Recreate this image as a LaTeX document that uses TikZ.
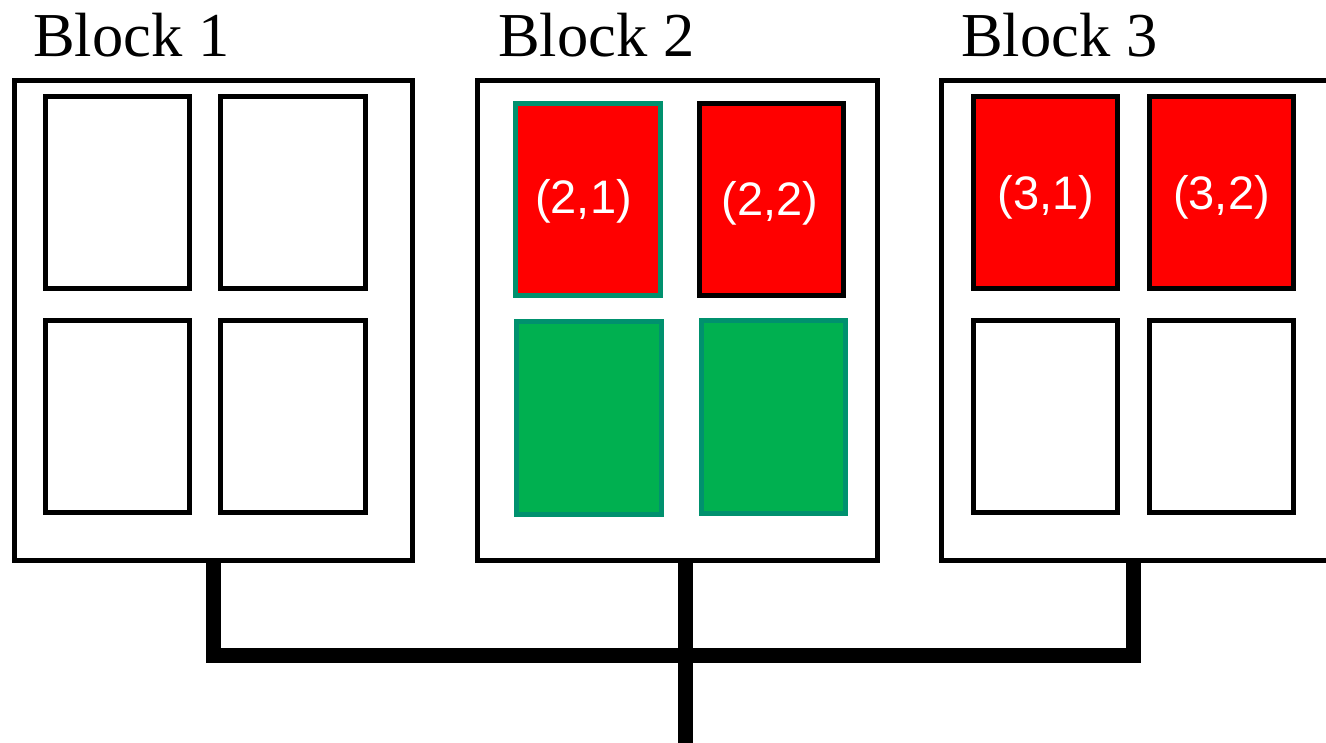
\documentclass[tikz,border=0pt]{standalone}
\usepackage{fontspec}
\setmainfont{Liberation Serif}
\newfontfamily\arialfont{Liberation Sans}
\definecolor{cellred}{HTML}{FF0000}
\definecolor{cellgreen}{HTML}{00B050}
\definecolor{cellteal}{HTML}{00916E}
\tikzset{
  blockbox/.style={draw=black, line width=5pt, fill=white, rectangle, inner sep=0pt, outer sep=0pt, minimum width=#1, minimum height=480pt},
  cellbox/.style={rectangle, line width=5pt, inner sep=0pt, outer sep=0pt},
  emptycell/.style={cellbox, draw=black, fill=white},
  redcell/.style={cellbox, draw=black, fill=cellred},
  tealred/.style={cellbox, draw=cellteal, fill=cellred},
  greencell/.style={cellbox, draw=cellteal, fill=cellgreen},
  blocktitle/.style={anchor=base west, inner sep=0pt, font=\fontsize{62.5}{70}\selectfont},
  celltext/.style={anchor=base, inner sep=0pt, text=white, font=\arialfont\fontsize{47}{52}\selectfont},
  bus/.style={line width=15pt, line join=miter, line cap=butt}
}
\newcommand{\cellat}[6]{% name, style, x1, y1, x2, y2
  \node[#2, minimum width={(#5-#3)*1pt}, minimum height={(#6-#4)*1pt}] (#1) at ({(#3+#5)/2},{(#4+#6)/2}) {};}
\begin{document}
\begin{tikzpicture}[x=1pt,y=-1pt]
\useasboundingbox (0,0) rectangle (1326,743);
\clip (0,0) rectangle (1326,743);
\fill[white] (0,0) rectangle (1326,743);

% titles
\node[blocktitle] (t1) at (33,57) {Block 1};
\node[blocktitle] (t2) at (498,57) {Block 2};
\node[blocktitle] (t3) at (961,57) {Block 3};

% blocks
\node[blockbox=398pt] (b1) at (213.5,320.5) {};
\node[blockbox=400pt] (b2) at (677.5,320.5) {};
\node[blockbox=398.5pt] (b3) at (1140.75,320.5) {};

% block 1 cells
\cellat{c11}{emptycell}{45.5}{96.5}{189.5}{288.5}
\cellat{c12}{emptycell}{220.5}{96.5}{365.5}{288.5}
\cellat{c13}{emptycell}{45.5}{320.5}{189.5}{512.5}
\cellat{c14}{emptycell}{220.5}{320.5}{365.5}{512.5}

% block 2 cells
\cellat{c21}{tealred}{515.5}{103.5}{660.5}{295.5}
\cellat{c22}{redcell}{699.5}{103.5}{843.5}{295.5}
\cellat{c23}{greencell}{516.5}{321.5}{661.5}{514.5}
\cellat{c24}{greencell}{701.5}{320.5}{845.5}{513.5}

% block 3 cells
\cellat{c31}{redcell}{973.5}{96.5}{1117.5}{288.5}
\cellat{c32}{redcell}{1149.5}{96.5}{1293.5}{288.5}
\cellat{c33}{emptycell}{973.5}{320.5}{1117.5}{512.5}
\cellat{c34}{emptycell}{1149.5}{320.5}{1293.5}{512.5}

% cell labels
\node[celltext] (l21) at (583.5,214) {(2,1)};
\node[celltext] (l22) at (770,216) {(2,2)};
\node[celltext] (l31) at (1046,210) {(3,1)};
\node[celltext] (l32) at (1221.5,210) {(3,2)};

% bus
\coordinate (j1) at (213.5,655.5);
\coordinate (j2) at (685,655.5);
\coordinate (j3) at (1133.5,655.5);
\coordinate (out) at (685,750);
\draw[bus] (b1.south -| j1) -- (j1) -- (j3) -- (b3.south -| j3);
\draw[bus] (b2.south -| j2) -- (out);
\end{tikzpicture}
\end{document}
